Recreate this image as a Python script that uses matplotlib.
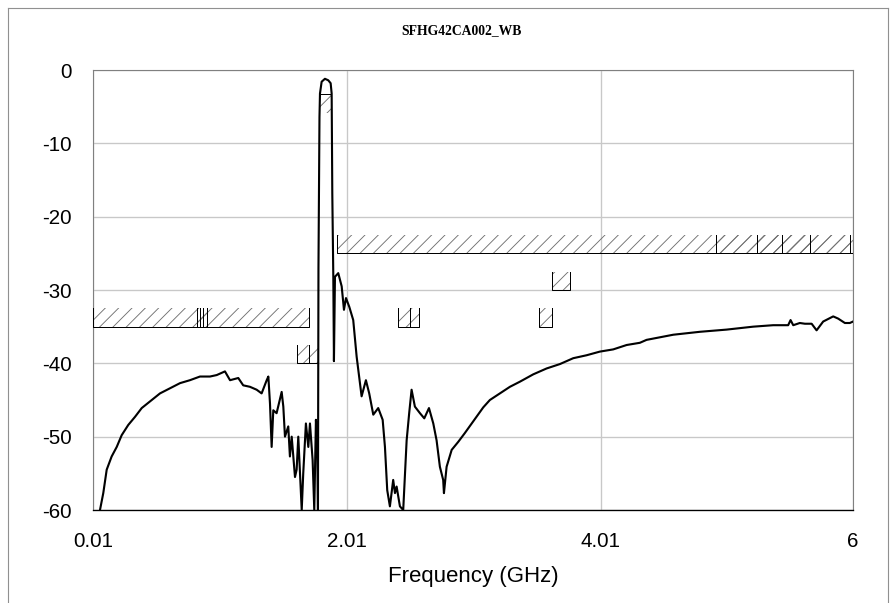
import matplotlib.pyplot as plt
from matplotlib.patches import Rectangle
from matplotlib.lines import Line2D

plt.rcParams['font.family'] = ['Liberation Sans', 'DejaVu Sans']
plt.rcParams['hatch.linewidth'] = 0.8
plt.rcParams['axes.unicode_minus'] = False

freq = [0.065, 0.091, 0.118, 0.157, 0.197, 0.236, 0.288, 0.341, 0.394, 0.459,
        0.538, 0.617, 0.696, 0.774, 0.853, 0.932, 0.985, 1.050, 1.090, 1.155,
        1.194, 1.247, 1.300, 1.339, 1.379, 1.392, 1.405, 1.418, 1.431, 1.457,
        1.497, 1.510, 1.523, 1.549, 1.562, 1.576, 1.602, 1.615, 1.628, 1.655,
        1.667, 1.688, 1.707, 1.720, 1.741, 1.754, 1.767, 1.777, 1.783, 1.787,
        1.795, 1.799, 1.812, 1.838, 1.864, 1.883, 1.891, 1.896, 1.904, 1.909,
        1.917, 1.943, 1.970, 1.988, 2.004, 2.030, 2.061, 2.088, 2.127, 2.161,
        2.187, 2.219, 2.258, 2.293, 2.311, 2.329, 2.350, 2.376, 2.390, 2.403,
        2.429, 2.455, 2.482, 2.502, 2.521, 2.547, 2.587, 2.621, 2.658, 2.692,
        2.718, 2.744, 2.770, 2.776, 2.797, 2.837, 2.889, 2.941, 3.007, 3.086,
        3.138, 3.217, 3.296, 3.375, 3.480, 3.585, 3.690, 3.795, 3.900, 4.005,
        4.110, 4.216, 4.320, 4.373, 4.583, 4.793, 5.004, 5.213, 5.371, 5.489,
        5.508, 5.529, 5.581, 5.621, 5.674, 5.713, 5.765, 5.844, 5.883, 5.936,
        5.975, 6.000]
s21 = [-60.0, -57.7, -54.5, -52.7, -51.4, -49.8, -48.4, -47.3, -46.1, -45.2,
       -44.1, -43.4, -42.7, -42.3, -41.8, -41.8, -41.6, -41.1, -42.3, -42.0,
       -43.0, -43.2, -43.6, -44.1, -42.3, -41.8, -45.5, -51.4, -46.4, -46.8,
       -43.9, -45.9, -50.0, -48.6, -52.7, -50.0, -55.5, -54.5, -50.0, -60.0,
       -55.0, -48.2, -51.4, -48.2, -53.2, -60.0, -47.7, -50.9, -60.0, -27.0,
       -6.4, -3.2, -1.6, -1.2, -1.4, -1.8, -3.2, -16.8, -28.2, -39.7,
       -28.2, -27.7, -29.5, -32.7, -31.1, -32.3, -34.1, -39.1, -44.5, -42.3,
       -44.1, -47.0, -46.1, -47.7, -51.4, -57.3, -59.5, -55.9, -57.7, -56.8,
       -59.5, -60.0, -50.5, -46.8, -43.6, -45.9, -46.8, -47.5, -46.1, -48.2,
       -50.5, -54.1, -55.9, -57.7, -54.1, -51.8, -50.7, -49.5, -47.9, -46.0,
       -45.0, -44.1, -43.2, -42.5, -41.5, -40.7, -40.1, -39.3, -38.9, -38.4,
       -38.1, -37.5, -37.2, -36.8, -36.1, -35.7, -35.4, -35.0, -34.8, -34.8,
       -34.1, -34.8, -34.5, -34.6, -34.6, -35.5, -34.3, -33.6, -33.9, -34.5,
       -34.5, -34.3]

# Stopband mask segments: (start GHz, stop GHz, level dB)
stop_start = [0.01, 0.83, 0.853, 1.617, 1.712, 1.930, 4.924, 5.244, 5.437,
              2.411, 2.508, 3.527, 3.624]
stop_stop = [1.712, 0.877, 0.908, 1.712, 1.783, 6.0, 5.437, 5.665, 5.975,
             2.508, 2.581, 3.624, 3.773]
stop_level = [-35, -35, -35, -40, -40, -25, -25, -25, -25,
              -35, -35, -35, -30]

# Passband mask: (start, stop, level)
pass_start = [1.80]
pass_stop = [1.885]
pass_level = [-3.3]

mask_h = 2.5
xticks = [0.01, 2.01, 4.01, 6]
xtick_labels = ['0.01', '2.01', '4.01', '6']
yticks = [0, -10, -20, -30, -40, -50, -60]

fig = plt.figure(figsize=(11.2, 7.5375), dpi=80)
ax = fig.add_axes([93 / 896, 93 / 603, 760 / 896, 440 / 603])

# grid
ax.set_axisbelow(True)
ax.grid(True, color='#c8c8c8', lw=1.2)

# mask boxes
for x0, x1, lv in zip(stop_start, stop_stop, stop_level):
    ax.add_patch(Rectangle((x0, lv), x1 - x0, mask_h, fill=False, hatch='//',
                           edgecolor='#707070', lw=0, zorder=2))
    ax.plot([x0, x0, x1, x1], [lv + mask_h, lv, lv, lv + mask_h],
            color='black', lw=0.9, zorder=3)
for x0, x1, lv in zip(pass_start, pass_stop, pass_level):
    ax.add_patch(Rectangle((x0, lv - mask_h), x1 - x0, mask_h, fill=False,
                           hatch='//', edgecolor='#707070', lw=0, zorder=2))
    ax.plot([x0, x1], [lv, lv], color='black', lw=0.9, zorder=3)

# response curve
ax.plot(freq, s21, color='black', lw=1.9, zorder=4)

ax.set_xlim(0.01, 6)
ax.set_ylim(-60, 0)
ax.set_xticks(xticks)
ax.set_xticklabels(xtick_labels)
ax.set_yticks(yticks)
ax.tick_params(length=0, labelsize=18.5)
ax.tick_params(axis='x', pad=20)
ax.tick_params(axis='y', pad=19)
for side in ['top', 'right', 'left']:
    ax.spines[side].set_color('#808080')
    ax.spines[side].set_linewidth(1.0)
ax.spines['bottom'].set_color('black')
ax.spines['bottom'].set_linewidth(1.2)

ax.set_xlabel('Frequency (GHz)', fontsize=20, labelpad=13)
fig.text(462 / 896, 1 - 31 / 603, 'SFHG42CA002_WB', ha='center', va='center',
         fontsize=12.3, fontweight='bold', family='Liberation Serif')

# outer frame
for xs, ys in [([8, 8], [8, 603]), ([8, 888], [8, 8]), ([888, 888], [8, 603])]:
    fig.add_artist(Line2D([v / 896 for v in xs], [1 - v / 603 for v in ys],
                          color='#909090', lw=1.0))

fig.savefig('out.png', dpi=80)
